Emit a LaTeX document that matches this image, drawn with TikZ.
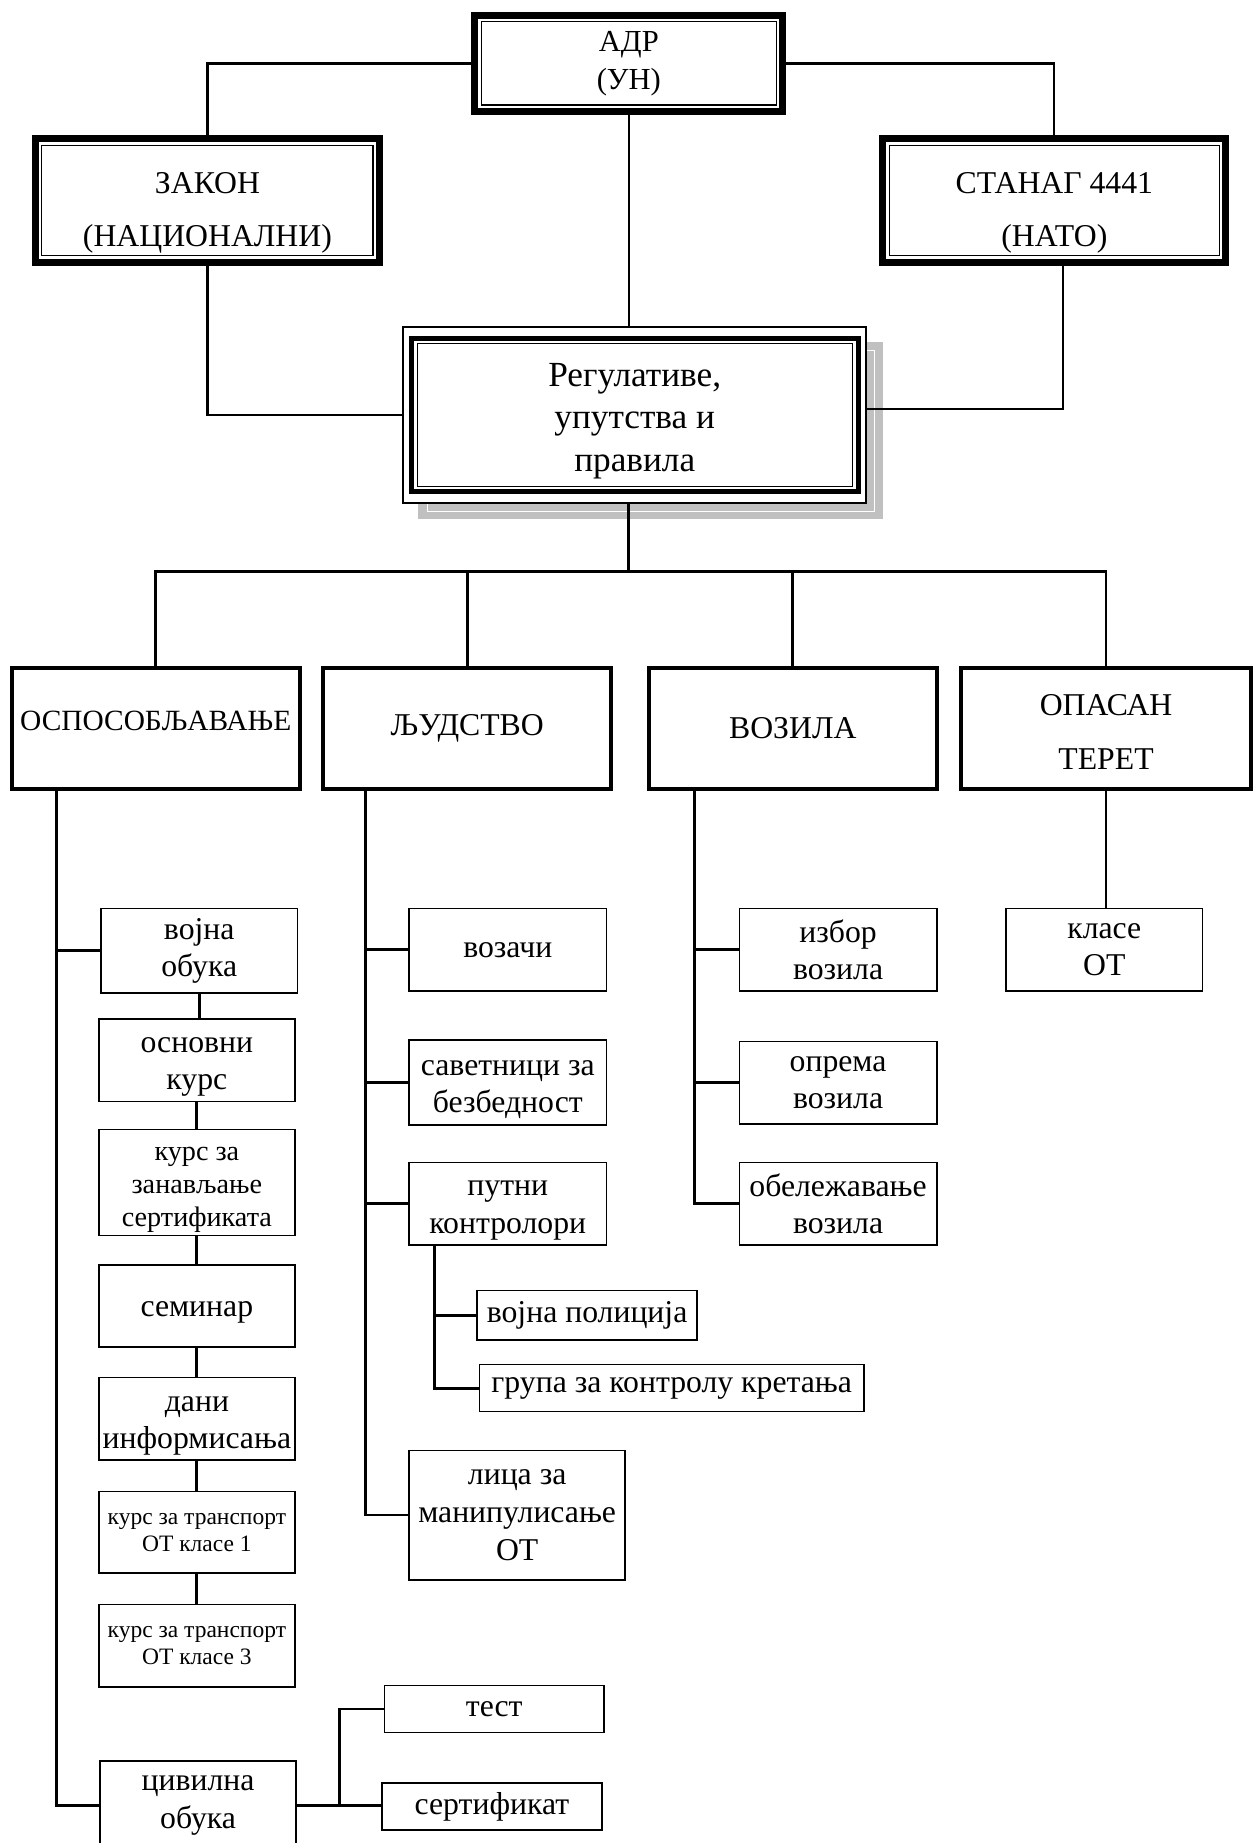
\documentclass[tikz,border=0pt]{standalone}
\usepackage{fontspec}
\setmainfont{Liberation Serif}
\definecolor{shadowgray}{RGB}{192,192,192}
\tikzset{
 base/.style={inner sep=0pt, outer sep=0pt, align=center, fill=white},
 topbox/.style={base, font=\fontsize{13.5}{22.5}\selectfont},
 regbox/.style={base, font=\fontsize{15}{18}\selectfont},
 lvltwo/.style={base, draw, line width=1.7pt, font=\fontsize{13.5}{23}\selectfont},
 sbox/.style={base, draw, line width=0.7pt, font=\fontsize{13.5}{16}\selectfont},
 midbox/.style={sbox, font=\fontsize{12}{14}\selectfont},
 tinybox/.style={sbox, font=\fontsize{10}{11.5}\selectfont},
 conn/.style={line width=1.2pt},
 topconn/.style={line width=0.9pt},
}
\newcommand\bx[7]{\node[#6, minimum width={(#4-#2)*0.5pt}, minimum height={(#5-#3)*0.5pt}] (#1) at ({(#2+#4)/2},{(#3+#5)/2}) {#7};}
\newcommand\dblframe[1]{%
 \draw[line width=3pt] ([shift={(1.5pt,-1.5pt)}]#1.north west) rectangle ([shift={(-1.5pt,1.5pt)}]#1.south east);
 \draw[line width=0.5pt] ([shift={(4.3pt,-4.3pt)}]#1.north west) rectangle ([shift={(-4.3pt,4.3pt)}]#1.south east);}
\begin{document}
\begin{tikzpicture}[x=0.5pt,y=-0.5pt]
\useasboundingbox (0,0) rectangle (1069,1568);
\fill[white] (0,0) rectangle (1069,1568);
% shadow of central box
\fill[shadowgray] (355.7,291) rectangle (751.5,441.7);
\draw[white, line width=0.5pt] (363.4,297.9) rectangle (743.8,434.9);
% top boxes
\bx{adr}{401}{10}{669}{98}{topbox, font=\fontsize{13}{16}\selectfont}{АДР\\(УН)}
\bx{zakon}{27}{115}{326}{226}{topbox}{\rule{0pt}{19.5pt}ЗАКОН\\(НАЦИОНАЛНИ)}
\bx{stanag}{748}{115}{1046}{226}{topbox}{\rule{0pt}{19.5pt}СТАНАГ 4441\\(НАТО)}
\dblframe{adr}
\dblframe{zakon}
\dblframe{stanag}
\bx{reg}{343}{278}{737}{428}{regbox}{\rule{0pt}{15pt}Регулативе,\\упутства и\\правила}
\draw[line width=0.9pt] (reg.north west) rectangle (reg.south east);
\draw[line width=2.2pt] ([shift={(3.4pt,-5pt)}]reg.north west) rectangle ([shift={(-3.4pt,5pt)}]reg.south east);
\draw[line width=0.5pt] ([shift={(6pt,-7pt)}]reg.north west) rectangle ([shift={(-6pt,7pt)}]reg.south east);
% level two
\bx{osp}{10}{568}{255}{671}{lvltwo, font=\fontsize{12.5}{15}\selectfont}{ОСПОСОБЉАВАЊЕ\rule[-6pt]{0pt}{6pt}}
\bx{ljud}{275}{568}{520}{671}{lvltwo}{ЉУДСТВО}
\bx{voz}{552}{568}{797}{671}{lvltwo}{ВОЗИЛА}
\bx{opas}{818}{568}{1064}{671}{lvltwo}{\rule{0pt}{12.5pt}ОПАСАН\\ТЕРЕТ}
% training column
\bx{vojna}{86}{773}{253}{845}{sbox}{војна\\обука}
\bx{osnovni}{84}{867}{251}{937}{sbox}{\rule{0pt}{12pt}основни\\курс}
\bx{kurs}{84}{961}{251}{1051}{midbox}{\rule{0pt}{12pt}курс за\\занављање\\сертификата}
\bx{seminar}{84}{1076}{251}{1146}{sbox}{\rule{0pt}{12pt}семинар}
\bx{dani}{84}{1172}{251}{1242}{sbox}{\rule{0pt}{12.5pt}дани\\информисања}
\bx{klj}{84}{1269}{251}{1338}{tinybox}{курс за транспорт\\ОТ класе 1}
\bx{klt}{84}{1365}{251}{1435}{tinybox}{курс за транспорт\\ОТ класе 3}
\bx{civ}{85}{1498}{252}{1574}{sbox}{цивилна\\обука}
\bx{test}{327}{1434}{514}{1474}{sbox}{тест}
\bx{sert}{325}{1517}{512}{1557}{sbox}{сертификат}
% personnel column
\bx{vozaci}{348}{773}{516}{843}{sbox}{возачи}
\bx{savet}{348}{885}{516}{957}{sbox}{\rule{0pt}{12.5pt}саветници за\\безбедност}
\bx{putni}{348}{989}{516}{1059}{sbox}{\rule{0pt}{12pt}путни\\контролори}
\bx{vp}{406}{1098}{593}{1140}{sbox}{војна полиција}
\bx{grupa}{408}{1161}{735}{1201}{sbox}{група за контролу кретања}
\bx{lica}{348}{1234}{532}{1344}{sbox}{лица за\\манипулисање\\ОТ}
% vehicles column
\bx{izbor}{629}{773}{797}{843}{sbox}{избор\\возила}
\bx{oprema}{629}{886}{797}{956}{sbox}{опрема\\возила}
\bx{obel}{629}{989}{797}{1059}{sbox}{обележавање\\возила}
% dangerous goods
\bx{klase}{856}{773}{1023}{843}{sbox}{класе\\ОТ}
% top connectors
\draw[topconn] (adr.west) -| (zakon.north);
\draw[topconn] (adr.east) -| (stanag.north);
\draw[topconn] (adr.south) -- (adr.south |- reg.north);
\draw[topconn] (zakon.south) |- (reg.west);
\draw[topconn] ([xshift=3.5pt]stanag.south) |- ([yshift=2.5pt]reg.east);
% bus
\draw[conn] (adr.south |- reg.south) -- ++(0,58) coordinate (bus);
\draw[conn] (osp.north) |- (bus) -| (opas.north);
\draw[conn] (ljud.north) |- (bus);
\draw[conn] (voz.north) |- (bus);
% training
\coordinate (ospT) at ([xshift=19pt]osp.south west);
\draw[conn] (ospT) |- (civ.west);
\draw[conn] (vojna.west) -- (vojna.west -| ospT);
\draw[conn] (vojna.south) -- (vojna.south |- osnovni.north);
\draw[conn] (osnovni.south) -- (kurs.north);
\draw[conn] (kurs.south) -- (seminar.north);
\draw[conn] (seminar.south) -- (dani.north);
\draw[conn] (dani.south) -- (klj.north);
\draw[conn] (klj.south) -- (klt.north);
\coordinate (cvJ) at ([xshift=18.5pt]civ.east);
\draw[conn] (civ.east) -- (civ.east -| sert.west);
\draw[conn] (cvJ) |- (test.west);
% personnel
\coordinate (ljT) at ([xshift=18pt]ljud.south west);
\draw[conn] (ljT) |- (lica.west);
\draw[conn] (vozaci.west) -- (vozaci.west -| ljT);
\draw[conn] (savet.west) -- (savet.west -| ljT);
\draw[conn] (putni.west) -- (putni.west -| ljT);
\coordinate (puT) at ([xshift=11pt]putni.south west);
\draw[conn] (puT) |- (grupa.west);
\draw[conn] (vp.west) -- (vp.west -| puT);
% vehicles
\coordinate (vzT) at ([xshift=19.5pt]voz.south west);
\draw[conn] (vzT) |- (obel.west);
\draw[conn] (izbor.west) -- (izbor.west -| vzT);
\draw[conn] (oprema.west) -- (oprema.west -| vzT);
% dangerous goods
\draw[conn] (opas.south) -- (opas.south |- klase.north);
\end{tikzpicture}
\end{document}
